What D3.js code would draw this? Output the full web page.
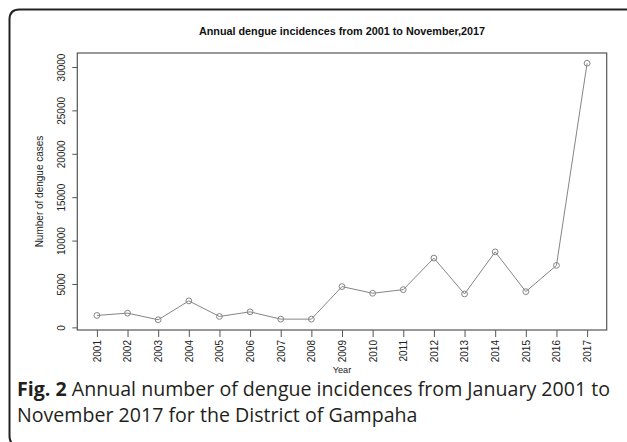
<!DOCTYPE html>
<html>
<head>
<meta charset="utf-8">
<script src="https://cdn.jsdelivr.net/npm/d3@7"></script>
<style>
  html, body { margin: 0; padding: 0; background: #fff; }
  svg { display: block; }
</style>
</head>
<body>
<svg id="chart" width="627" height="442"></svg>
<script>
// Annual dengue cases, Gampaha district
const years = [2001, 2002, 2003, 2004, 2005, 2006, 2007, 2008, 2009,
               2010, 2011, 2012, 2013, 2014, 2015, 2016, 2017];
const cases = [1374, 1640, 880, 3050, 1260, 1790, 950, 950, 4700,
               3930, 4350, 7980, 3850, 8700, 4120, 7140, 30430];
const yTicks = [0, 5000, 10000, 15000, 20000, 25000, 30000];

const svg = d3.select("#chart");
const plot = { left: 77.3, right: 606.7, top: 53, bottom: 330 };

// frame around figure + caption
svg.append("path")
  .attr("d", "M 640 9.5 L 19.5 9.5 Q 9.5 9.5 9.5 19.5 L 9.5 436 Q 9.5 446 19.5 446")
  .attr("fill", "none").attr("stroke", "#222").attr("stroke-width", 2);

// scales with 4% padding around the data range
const xPad = (d3.max(years) - d3.min(years)) * 0.04;
const x = d3.scaleLinear()
  .domain([d3.min(years) - xPad, d3.max(years) + xPad])
  .range([plot.left, plot.right]);
const yMin = d3.min(cases), yMax = d3.max(cases), yPad = (yMax - yMin) * 0.04;
const y = d3.scaleLinear()
  .domain([yMin - yPad, yMax + yPad])
  .range([plot.bottom, plot.top]);

const axisColor = "#555";
const font = "'Liberation Sans', Arial, sans-serif";

// x axis
const xAxis = svg.append("g")
  .attr("transform", `translate(0,${plot.bottom})`)
  .call(d3.axisBottom(x).tickValues(years).tickFormat(d3.format("d")).tickSize(7).tickSizeOuter(0));
xAxis.select(".domain").remove();
xAxis.selectAll(".tick line").attr("stroke", axisColor);
xAxis.selectAll(".tick text")
  .attr("font-family", font).attr("font-size", 10).attr("fill", "#222")
  .attr("transform", "rotate(-90)")
  .attr("text-anchor", "end")
  .attr("x", -10).attr("y", 0).attr("dy", "0.34em");

// y axis
const yAxis = svg.append("g")
  .attr("transform", `translate(${plot.left},0)`)
  .call(d3.axisLeft(y).tickValues(yTicks).tickFormat(d3.format("d")).tickSize(5).tickSizeOuter(0));
yAxis.select(".domain").remove();
yAxis.selectAll(".tick line").attr("stroke", axisColor);
yAxis.selectAll(".tick text")
  .attr("font-family", font).attr("font-size", 10).attr("fill", "#222")
  .attr("transform", "rotate(-90)")
  .attr("text-anchor", "middle")
  .attr("x", 0).attr("y", -12.5).attr("dy", 0);

// plot box
svg.append("rect")
  .attr("x", plot.left).attr("y", plot.top)
  .attr("width", plot.right - plot.left).attr("height", plot.bottom - plot.top)
  .attr("fill", "none").attr("stroke", axisColor).attr("stroke-width", 1.2);

// series line and open-circle markers
const data = years.map((yr, i) => ({ year: yr, value: cases[i] }));
svg.append("path")
  .datum(data)
  .attr("fill", "none").attr("stroke", "#858585").attr("stroke-width", 1)
  .attr("d", d3.line().x(d => x(d.year)).y(d => y(d.value)));
svg.append("g").selectAll("circle")
  .data(data).join("circle")
  .attr("cx", d => x(d.year)).attr("cy", d => y(d.value)).attr("r", 2.9)
  .attr("fill", "none").attr("stroke", "#858585").attr("stroke-width", 1);

// titles
svg.append("text")
  .attr("x", (plot.left + plot.right) / 2).attr("y", 34.5)
  .attr("text-anchor", "middle").attr("font-family", font)
  .attr("font-weight", "bold").attr("font-size", 10.8).attr("fill", "#111")
  .text("Annual dengue incidences from 2001 to November,2017");
svg.append("text")
  .attr("x", (plot.left + plot.right) / 2).attr("y", 373)
  .attr("text-anchor", "middle").attr("font-family", font)
  .attr("font-size", 9.2).attr("fill", "#222")
  .text("Year");
svg.append("text")
  .attr("transform", `translate(42.5,${(plot.top + plot.bottom) / 2}) rotate(-90)`)
  .attr("text-anchor", "middle").attr("font-family", font)
  .attr("font-size", 10).attr("fill", "#222")
  .text("Number of dengue cases");

// caption
const cap = svg.append("text")
  .attr("font-family", "'Open Sans', 'Noto Sans', sans-serif")
  .attr("font-size", 19.6).attr("fill", "#231f20");
const l1 = cap.append("tspan").attr("x", 17).attr("y", 396);
l1.append("tspan").attr("font-weight", "bold").text("Fig. 2");
l1.append("tspan").text(" Annual number of dengue incidences from January 2001 to");
cap.append("tspan").attr("x", 17).attr("y", 422)
  .text("November 2017 for the District of Gampaha");
</script>
</body>
</html>
